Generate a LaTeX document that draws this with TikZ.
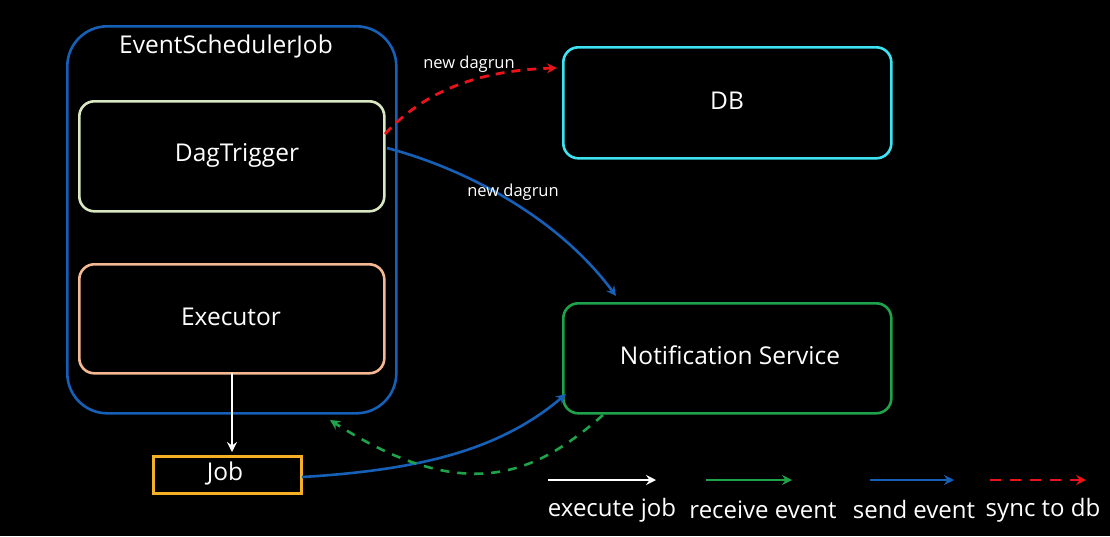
\documentclass[tikz,border=0pt]{standalone}
\usepackage{fontspec}
\setmainfont{Open Sans}
\usetikzlibrary{arrows.meta}
\definecolor{cBlue}{HTML}{1660B8}
\definecolor{cPale}{HTML}{D9E8C2}
\definecolor{cPeach}{HTML}{F4B892}
\definecolor{cCyan}{HTML}{3DE3F0}
\definecolor{cGreen}{HTML}{1FA34A}
\definecolor{cOrange}{HTML}{F5B026}
\definecolor{cRed}{HTML}{E8141A}
\tikzset{
  box/.style={draw, line width=2.6pt, rounded corners=15pt},
  txt/.style={text=white, font=\fontsize{24.5}{28}\selectfont},
  lbl/.style={text=white, font=\fontsize{16.5}{19}\selectfont},
  leg/.style={text=white, font=\fontsize{24}{28}\selectfont},
  tip/.style={-{Stealth[length=10pt,width=10pt,inset=3.5pt]}},
}
\begin{document}
\begin{tikzpicture}[x=1pt,y=-1pt]
\fill[black] (0,0) rectangle (1110,536);
\useasboundingbox (0,0) rectangle (1110,536);
% outer
\node[box, draw=cBlue, rounded corners=40pt, minimum width=329pt, minimum height=387pt, anchor=north west] (esj) at (66,25) {};
\node[txt] (esjt) at (226,46) {EventSchedulerJob};
\node[box, draw=cPale, minimum width=305pt, minimum height=110pt, anchor=north west] (dag) at (78,100) {};
\node[txt] at (237,155) {DagTrigger};
\node[box, draw=cPeach, minimum width=305pt, minimum height=109pt, anchor=north west] (exe) at (78,263) {};
\node[txt] at (231,317) {Executor};
\node[box, draw=cCyan, minimum width=328pt, minimum height=111pt, anchor=north west] (db) at (562,46) {};
\node[txt] at (727,101) {DB};
\node[box, draw=cGreen, minimum width=328pt, minimum height=110pt, anchor=north west] (ns) at (562,302) {};
\node[txt] at (730,355) {Notification Service};
\node[box, draw=cOrange, rounded corners=0pt, minimum width=148pt, minimum height=37pt, anchor=north west] (job) at (152,455) {};
\node[txt] at (225,473) {Job};
% coordinates
\coordinate (exeb) at (232,373);
\coordinate (jobt) at (232,452);
\coordinate (dagr1) at (385,134);
\coordinate (dbl) at (557,68);
\coordinate (dagr2) at (387,148);
\coordinate (nst) at (616,296);
\coordinate (jobr) at (302,477);
\coordinate (nsl) at (566,394);
\coordinate (nsb) at (603,415);
\coordinate (esjb) at (330,420);
% connectors
\draw[white, line width=2pt, tip] (exeb) -- (jobt);
\draw[cRed, line width=2.8pt, dash pattern=on 9pt off 7pt, tip] (dagr1) .. controls (430,85) and (490,70) .. (dbl);
\node[lbl] at (469,64) {new dagrun};
\draw[cBlue, line width=2.6pt, tip] (dagr2) .. controls (470,170) and (560,220) .. (nst);
\node[lbl] at (513,192) {new dagrun};
\draw[cBlue, line width=2.6pt, tip] (jobr) .. controls (420,470) and (500,450) .. (nsl);
\draw[cGreen, line width=2.6pt, dash pattern=on 9pt off 8pt, tip] (nsb) .. controls (540,470) and (470,510) .. (esjb);
% legend
\coordinate (l1a) at (548,480); \coordinate (l1b) at (656,480);
\coordinate (l2a) at (706,480); \coordinate (l2b) at (792,480);
\coordinate (l3a) at (870,480); \coordinate (l3b) at (954,480);
\coordinate (l4a) at (990,480); \coordinate (l4b) at (1086,480);
\draw[white, line width=2.6pt, tip] (l1a) -- (l1b);
\draw[cGreen, line width=2.6pt, tip] (l2a) -- (l2b);
\draw[cBlue, line width=2.6pt, tip] (l3a) -- (l3b);
\draw[cRed, line width=2.8pt, dash pattern=on 11pt off 9pt, tip] (l4a) -- (l4b);
\node[leg] at (612,510) {execute job};
\node[leg] at (763,510) {receive event};
\node[leg] at (914,509) {send event};
\node[leg] at (1043,510) {sync to db};
\end{tikzpicture}
\end{document}
